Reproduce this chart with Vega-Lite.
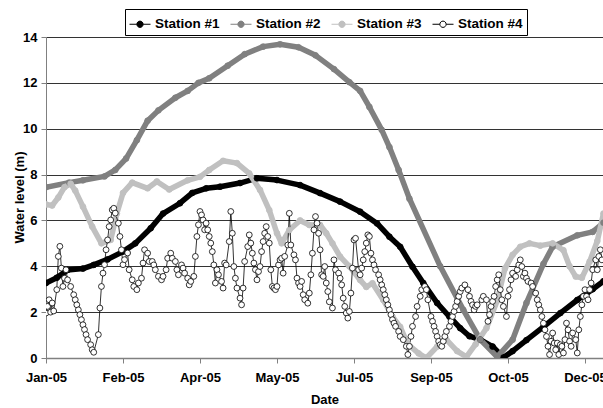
{
  "$schema": "https://vega.github.io/schema/vega-lite/v6.json",
  "width": 557,
  "height": 321,
  "autosize": "none",
  "padding": {"left": 46, "top": 37, "right": 0, "bottom": 50},
  "background": "white",
  "config": {
    "font": "Liberation Sans",
    "view": {"stroke": null},
    "axis": {
      "labelFont": "Liberation Sans", "labelFontWeight": "bold", "labelFontSize": 13, "labelColor": "#000",
      "titleFont": "Liberation Sans", "titleFontWeight": "bold", "titleFontSize": 13, "titleColor": "#000",
      "domainColor": "#808080", "tickColor": "#808080", "tickSize": 5
    }
  },
  "data": {
    "values": [
      {"Station": "Station #1", "Date": "2005-01-01", "Level": 3.27},
      {"Station": "Station #1", "Date": "2005-01-08", "Level": 3.5},
      {"Station": "Station #1", "Date": "2005-01-15", "Level": 3.84},
      {"Station": "Station #1", "Date": "2005-01-25", "Level": 3.9},
      {"Station": "Station #1", "Date": "2005-02-01", "Level": 4.06},
      {"Station": "Station #1", "Date": "2005-02-10", "Level": 4.3},
      {"Station": "Station #1", "Date": "2005-02-20", "Level": 4.64},
      {"Station": "Station #1", "Date": "2005-02-28", "Level": 5.0},
      {"Station": "Station #1", "Date": "2005-03-10", "Level": 5.66},
      {"Station": "Station #1", "Date": "2005-03-18", "Level": 6.3},
      {"Station": "Station #1", "Date": "2005-03-29", "Level": 6.75},
      {"Station": "Station #1", "Date": "2005-04-06", "Level": 7.2},
      {"Station": "Station #1", "Date": "2005-04-15", "Level": 7.4},
      {"Station": "Station #1", "Date": "2005-04-24", "Level": 7.47},
      {"Station": "Station #1", "Date": "2005-05-07", "Level": 7.63},
      {"Station": "Station #1", "Date": "2005-05-18", "Level": 7.84},
      {"Station": "Station #1", "Date": "2005-05-31", "Level": 7.76},
      {"Station": "Station #1", "Date": "2005-06-15", "Level": 7.54},
      {"Station": "Station #1", "Date": "2005-06-28", "Level": 7.19},
      {"Station": "Station #1", "Date": "2005-07-11", "Level": 6.82},
      {"Station": "Station #1", "Date": "2005-07-24", "Level": 6.38},
      {"Station": "Station #1", "Date": "2005-08-04", "Level": 5.87},
      {"Station": "Station #1", "Date": "2005-08-12", "Level": 5.29},
      {"Station": "Station #1", "Date": "2005-08-19", "Level": 4.85},
      {"Station": "Station #1", "Date": "2005-08-27", "Level": 3.98},
      {"Station": "Station #1", "Date": "2005-09-03", "Level": 3.27},
      {"Station": "Station #1", "Date": "2005-09-12", "Level": 2.4},
      {"Station": "Station #1", "Date": "2005-09-20", "Level": 1.8},
      {"Station": "Station #1", "Date": "2005-09-27", "Level": 1.3},
      {"Station": "Station #1", "Date": "2005-10-03", "Level": 0.95},
      {"Station": "Station #1", "Date": "2005-10-10", "Level": 0.8},
      {"Station": "Station #1", "Date": "2005-10-18", "Level": 0.5},
      {"Station": "Station #1", "Date": "2005-10-25", "Level": 0.02},
      {"Station": "Station #1", "Date": "2005-10-31", "Level": 0.3},
      {"Station": "Station #1", "Date": "2005-11-09", "Level": 0.78},
      {"Station": "Station #1", "Date": "2005-11-20", "Level": 1.36},
      {"Station": "Station #1", "Date": "2005-12-01", "Level": 1.96},
      {"Station": "Station #1", "Date": "2005-12-12", "Level": 2.53},
      {"Station": "Station #1", "Date": "2005-12-22", "Level": 3.0},
      {"Station": "Station #1", "Date": "2005-12-29", "Level": 3.35},

      {"Station": "Station #2", "Date": "2005-01-01", "Level": 7.45},
      {"Station": "Station #2", "Date": "2005-01-16", "Level": 7.65},
      {"Station": "Station #2", "Date": "2005-01-25", "Level": 7.75},
      {"Station": "Station #2", "Date": "2005-02-08", "Level": 7.92},
      {"Station": "Station #2", "Date": "2005-02-15", "Level": 8.2},
      {"Station": "Station #2", "Date": "2005-02-22", "Level": 8.7},
      {"Station": "Station #2", "Date": "2005-03-01", "Level": 9.5},
      {"Station": "Station #2", "Date": "2005-03-08", "Level": 10.35},
      {"Station": "Station #2", "Date": "2005-03-15", "Level": 10.8},
      {"Station": "Station #2", "Date": "2005-03-26", "Level": 11.35},
      {"Station": "Station #2", "Date": "2005-04-03", "Level": 11.65},
      {"Station": "Station #2", "Date": "2005-04-10", "Level": 12.0},
      {"Station": "Station #2", "Date": "2005-04-17", "Level": 12.2},
      {"Station": "Station #2", "Date": "2005-04-29", "Level": 12.75},
      {"Station": "Station #2", "Date": "2005-05-10", "Level": 13.25},
      {"Station": "Station #2", "Date": "2005-05-22", "Level": 13.58},
      {"Station": "Station #2", "Date": "2005-06-02", "Level": 13.68},
      {"Station": "Station #2", "Date": "2005-06-14", "Level": 13.55},
      {"Station": "Station #2", "Date": "2005-06-25", "Level": 13.2},
      {"Station": "Station #2", "Date": "2005-07-07", "Level": 12.6},
      {"Station": "Station #2", "Date": "2005-07-17", "Level": 12.03},
      {"Station": "Station #2", "Date": "2005-07-24", "Level": 11.65},
      {"Station": "Station #2", "Date": "2005-07-30", "Level": 10.95},
      {"Station": "Station #2", "Date": "2005-08-07", "Level": 9.95},
      {"Station": "Station #2", "Date": "2005-08-12", "Level": 9.2},
      {"Station": "Station #2", "Date": "2005-08-18", "Level": 8.2},
      {"Station": "Station #2", "Date": "2005-08-25", "Level": 6.95},
      {"Station": "Station #2", "Date": "2005-09-14", "Level": 4.0},
      {"Station": "Station #2", "Date": "2005-09-29", "Level": 2.1},
      {"Station": "Station #2", "Date": "2005-10-10", "Level": 0.8},
      {"Station": "Station #2", "Date": "2005-10-21", "Level": 0.05},
      {"Station": "Station #2", "Date": "2005-10-31", "Level": 0.8},
      {"Station": "Station #2", "Date": "2005-11-09", "Level": 2.4},
      {"Station": "Station #2", "Date": "2005-11-20", "Level": 4.1},
      {"Station": "Station #2", "Date": "2005-11-26", "Level": 4.85},
      {"Station": "Station #2", "Date": "2005-12-12", "Level": 5.35},
      {"Station": "Station #2", "Date": "2005-12-22", "Level": 5.5},
      {"Station": "Station #2", "Date": "2005-12-29", "Level": 5.9},

      {"Station": "Station #3", "Date": "2005-01-01", "Level": 6.7},
      {"Station": "Station #3", "Date": "2005-01-05", "Level": 6.65},
      {"Station": "Station #3", "Date": "2005-01-09", "Level": 7.0},
      {"Station": "Station #3", "Date": "2005-01-13", "Level": 7.45},
      {"Station": "Station #3", "Date": "2005-01-17", "Level": 7.6},
      {"Station": "Station #3", "Date": "2005-01-20", "Level": 7.3},
      {"Station": "Station #3", "Date": "2005-01-25", "Level": 6.6},
      {"Station": "Station #3", "Date": "2005-01-31", "Level": 5.73},
      {"Station": "Station #3", "Date": "2005-02-06", "Level": 5.0},
      {"Station": "Station #3", "Date": "2005-02-12", "Level": 5.15},
      {"Station": "Station #3", "Date": "2005-02-16", "Level": 6.3},
      {"Station": "Station #3", "Date": "2005-02-20", "Level": 7.2},
      {"Station": "Station #3", "Date": "2005-02-26", "Level": 7.65},
      {"Station": "Station #3", "Date": "2005-03-08", "Level": 7.4},
      {"Station": "Station #3", "Date": "2005-03-14", "Level": 7.7},
      {"Station": "Station #3", "Date": "2005-03-22", "Level": 7.35},
      {"Station": "Station #3", "Date": "2005-04-03", "Level": 7.75},
      {"Station": "Station #3", "Date": "2005-04-11", "Level": 7.9},
      {"Station": "Station #3", "Date": "2005-04-17", "Level": 8.2},
      {"Station": "Station #3", "Date": "2005-04-26", "Level": 8.6},
      {"Station": "Station #3", "Date": "2005-05-05", "Level": 8.5},
      {"Station": "Station #3", "Date": "2005-05-13", "Level": 8.05},
      {"Station": "Station #3", "Date": "2005-05-20", "Level": 7.33},
      {"Station": "Station #3", "Date": "2005-05-26", "Level": 6.45},
      {"Station": "Station #3", "Date": "2005-05-31", "Level": 5.44},
      {"Station": "Station #3", "Date": "2005-06-03", "Level": 5.0},
      {"Station": "Station #3", "Date": "2005-06-08", "Level": 5.58},
      {"Station": "Station #3", "Date": "2005-06-15", "Level": 6.0},
      {"Station": "Station #3", "Date": "2005-06-21", "Level": 5.8},
      {"Station": "Station #3", "Date": "2005-06-28", "Level": 5.8},
      {"Station": "Station #3", "Date": "2005-07-02", "Level": 5.44},
      {"Station": "Station #3", "Date": "2005-07-06", "Level": 5.0},
      {"Station": "Station #3", "Date": "2005-07-11", "Level": 4.42},
      {"Station": "Station #3", "Date": "2005-07-17", "Level": 4.0},
      {"Station": "Station #3", "Date": "2005-07-24", "Level": 3.4},
      {"Station": "Station #3", "Date": "2005-07-28", "Level": 3.1},
      {"Station": "Station #3", "Date": "2005-08-01", "Level": 3.26},
      {"Station": "Station #3", "Date": "2005-08-08", "Level": 2.53},
      {"Station": "Station #3", "Date": "2005-08-14", "Level": 1.8},
      {"Station": "Station #3", "Date": "2005-08-19", "Level": 1.36},
      {"Station": "Station #3", "Date": "2005-08-24", "Level": 0.6},
      {"Station": "Station #3", "Date": "2005-08-31", "Level": 0.2},
      {"Station": "Station #3", "Date": "2005-09-05", "Level": 0.0},
      {"Station": "Station #3", "Date": "2005-09-12", "Level": 0.5},
      {"Station": "Station #3", "Date": "2005-09-18", "Level": 0.8},
      {"Station": "Station #3", "Date": "2005-09-25", "Level": 0.3},
      {"Station": "Station #3", "Date": "2005-10-01", "Level": 0.05},
      {"Station": "Station #3", "Date": "2005-10-07", "Level": 0.6},
      {"Station": "Station #3", "Date": "2005-10-14", "Level": 1.3},
      {"Station": "Station #3", "Date": "2005-10-21", "Level": 2.5},
      {"Station": "Station #3", "Date": "2005-10-26", "Level": 3.9},
      {"Station": "Station #3", "Date": "2005-10-31", "Level": 4.5},
      {"Station": "Station #3", "Date": "2005-11-05", "Level": 4.85},
      {"Station": "Station #3", "Date": "2005-11-11", "Level": 5.0},
      {"Station": "Station #3", "Date": "2005-11-18", "Level": 4.9},
      {"Station": "Station #3", "Date": "2005-11-26", "Level": 5.0},
      {"Station": "Station #3", "Date": "2005-12-03", "Level": 4.7},
      {"Station": "Station #3", "Date": "2005-12-07", "Level": 4.0},
      {"Station": "Station #3", "Date": "2005-12-11", "Level": 3.55},
      {"Station": "Station #3", "Date": "2005-12-15", "Level": 3.5},
      {"Station": "Station #3", "Date": "2005-12-20", "Level": 4.2},
      {"Station": "Station #3", "Date": "2005-12-25", "Level": 5.1},
      {"Station": "Station #3", "Date": "2005-12-29", "Level": 6.3},

      {"Station": "Station #4", "Date": "2005-01-01", "Level": 1.96},
      {"Station": "Station #4", "Date": "2005-01-02", "Level": 2.25},
      {"Station": "Station #4", "Date": "2005-01-03", "Level": 2.54},
      {"Station": "Station #4", "Date": "2005-01-04", "Level": 2.0},
      {"Station": "Station #4", "Date": "2005-01-05", "Level": 2.4},
      {"Station": "Station #4", "Date": "2005-01-06", "Level": 2.05},
      {"Station": "Station #4", "Date": "2005-01-08", "Level": 2.98},
      {"Station": "Station #4", "Date": "2005-01-09", "Level": 4.43},
      {"Station": "Station #4", "Date": "2005-01-10", "Level": 4.87},
      {"Station": "Station #4", "Date": "2005-01-11", "Level": 3.92},
      {"Station": "Station #4", "Date": "2005-01-12", "Level": 3.12},
      {"Station": "Station #4", "Date": "2005-01-13", "Level": 3.48},
      {"Station": "Station #4", "Date": "2005-01-14", "Level": 3.85},
      {"Station": "Station #4", "Date": "2005-01-15", "Level": 3.41},
      {"Station": "Station #4", "Date": "2005-01-17", "Level": 3.12},
      {"Station": "Station #4", "Date": "2005-01-19", "Level": 2.76},
      {"Station": "Station #4", "Date": "2005-01-20", "Level": 2.54},
      {"Station": "Station #4", "Date": "2005-01-21", "Level": 2.32},
      {"Station": "Station #4", "Date": "2005-01-22", "Level": 2.1},
      {"Station": "Station #4", "Date": "2005-01-23", "Level": 1.89},
      {"Station": "Station #4", "Date": "2005-01-24", "Level": 1.67},
      {"Station": "Station #4", "Date": "2005-01-25", "Level": 1.45},
      {"Station": "Station #4", "Date": "2005-01-26", "Level": 1.24},
      {"Station": "Station #4", "Date": "2005-01-27", "Level": 1.02},
      {"Station": "Station #4", "Date": "2005-01-28", "Level": 0.8},
      {"Station": "Station #4", "Date": "2005-01-30", "Level": 0.58},
      {"Station": "Station #4", "Date": "2005-01-31", "Level": 0.36},
      {"Station": "Station #4", "Date": "2005-02-01", "Level": 0.25},
      {"Station": "Station #4", "Date": "2005-02-04", "Level": 1.02},
      {"Station": "Station #4", "Date": "2005-02-05", "Level": 2.18},
      {"Station": "Station #4", "Date": "2005-02-06", "Level": 3.12},
      {"Station": "Station #4", "Date": "2005-02-07", "Level": 3.7},
      {"Station": "Station #4", "Date": "2005-02-08", "Level": 4.07},
      {"Station": "Station #4", "Date": "2005-02-09", "Level": 4.72},
      {"Station": "Station #4", "Date": "2005-02-10", "Level": 5.15},
      {"Station": "Station #4", "Date": "2005-02-11", "Level": 5.73},
      {"Station": "Station #4", "Date": "2005-02-12", "Level": 6.02},
      {"Station": "Station #4", "Date": "2005-02-13", "Level": 6.46},
      {"Station": "Station #4", "Date": "2005-02-14", "Level": 6.53},
      {"Station": "Station #4", "Date": "2005-02-15", "Level": 6.32},
      {"Station": "Station #4", "Date": "2005-02-17", "Level": 5.88},
      {"Station": "Station #4", "Date": "2005-02-18", "Level": 5.3},
      {"Station": "Station #4", "Date": "2005-02-19", "Level": 4.72},
      {"Station": "Station #4", "Date": "2005-02-20", "Level": 4.07},
      {"Station": "Station #4", "Date": "2005-02-21", "Level": 4.29},
      {"Station": "Station #4", "Date": "2005-02-23", "Level": 4.58},
      {"Station": "Station #4", "Date": "2005-02-24", "Level": 3.85},
      {"Station": "Station #4", "Date": "2005-02-26", "Level": 3.41},
      {"Station": "Station #4", "Date": "2005-02-27", "Level": 3.12},
      {"Station": "Station #4", "Date": "2005-03-01", "Level": 2.98},
      {"Station": "Station #4", "Date": "2005-03-02", "Level": 3.27},
      {"Station": "Station #4", "Date": "2005-03-04", "Level": 3.48},
      {"Station": "Station #4", "Date": "2005-03-05", "Level": 4.14},
      {"Station": "Station #4", "Date": "2005-03-06", "Level": 4.72},
      {"Station": "Station #4", "Date": "2005-03-08", "Level": 4.57},
      {"Station": "Station #4", "Date": "2005-03-09", "Level": 4.21},
      {"Station": "Station #4", "Date": "2005-03-11", "Level": 4.21},
      {"Station": "Station #4", "Date": "2005-03-12", "Level": 4.06},
      {"Station": "Station #4", "Date": "2005-03-13", "Level": 3.85},
      {"Station": "Station #4", "Date": "2005-03-15", "Level": 3.56},
      {"Station": "Station #4", "Date": "2005-03-17", "Level": 3.41},
      {"Station": "Station #4", "Date": "2005-03-18", "Level": 3.56},
      {"Station": "Station #4", "Date": "2005-03-20", "Level": 3.85},
      {"Station": "Station #4", "Date": "2005-03-21", "Level": 4.35},
      {"Station": "Station #4", "Date": "2005-03-23", "Level": 4.57},
      {"Station": "Station #4", "Date": "2005-03-24", "Level": 4.35},
      {"Station": "Station #4", "Date": "2005-03-26", "Level": 4.21},
      {"Station": "Station #4", "Date": "2005-03-27", "Level": 3.85},
      {"Station": "Station #4", "Date": "2005-03-28", "Level": 3.63},
      {"Station": "Station #4", "Date": "2005-03-30", "Level": 4.06},
      {"Station": "Station #4", "Date": "2005-03-31", "Level": 3.92},
      {"Station": "Station #4", "Date": "2005-04-01", "Level": 3.7},
      {"Station": "Station #4", "Date": "2005-04-03", "Level": 3.48},
      {"Station": "Station #4", "Date": "2005-04-04", "Level": 3.19},
      {"Station": "Station #4", "Date": "2005-04-05", "Level": 3.34},
      {"Station": "Station #4", "Date": "2005-04-07", "Level": 3.56},
      {"Station": "Station #4", "Date": "2005-04-08", "Level": 4.43},
      {"Station": "Station #4", "Date": "2005-04-09", "Level": 5.3},
      {"Station": "Station #4", "Date": "2005-04-10", "Level": 5.81},
      {"Station": "Station #4", "Date": "2005-04-11", "Level": 6.39},
      {"Station": "Station #4", "Date": "2005-04-12", "Level": 6.24},
      {"Station": "Station #4", "Date": "2005-04-13", "Level": 6.02},
      {"Station": "Station #4", "Date": "2005-04-14", "Level": 5.59},
      {"Station": "Station #4", "Date": "2005-04-15", "Level": 5.88},
      {"Station": "Station #4", "Date": "2005-04-16", "Level": 5.59},
      {"Station": "Station #4", "Date": "2005-04-17", "Level": 5.3},
      {"Station": "Station #4", "Date": "2005-04-18", "Level": 5.01},
      {"Station": "Station #4", "Date": "2005-04-19", "Level": 4.64},
      {"Station": "Station #4", "Date": "2005-04-20", "Level": 4.06},
      {"Station": "Station #4", "Date": "2005-04-21", "Level": 3.27},
      {"Station": "Station #4", "Date": "2005-04-22", "Level": 3.85},
      {"Station": "Station #4", "Date": "2005-04-23", "Level": 3.63},
      {"Station": "Station #4", "Date": "2005-04-25", "Level": 3.34},
      {"Station": "Station #4", "Date": "2005-04-26", "Level": 3.05},
      {"Station": "Station #4", "Date": "2005-04-27", "Level": 4.14},
      {"Station": "Station #4", "Date": "2005-04-28", "Level": 4.06},
      {"Station": "Station #4", "Date": "2005-04-30", "Level": 5.08},
      {"Station": "Station #4", "Date": "2005-05-01", "Level": 6.39},
      {"Station": "Station #4", "Date": "2005-05-02", "Level": 5.44},
      {"Station": "Station #4", "Date": "2005-05-03", "Level": 3.99},
      {"Station": "Station #4", "Date": "2005-05-04", "Level": 3.48},
      {"Station": "Station #4", "Date": "2005-05-05", "Level": 3.05},
      {"Station": "Station #4", "Date": "2005-05-07", "Level": 2.61},
      {"Station": "Station #4", "Date": "2005-05-08", "Level": 2.32},
      {"Station": "Station #4", "Date": "2005-05-09", "Level": 3.05},
      {"Station": "Station #4", "Date": "2005-05-10", "Level": 4.21},
      {"Station": "Station #4", "Date": "2005-05-12", "Level": 4.86},
      {"Station": "Station #4", "Date": "2005-05-13", "Level": 5.37},
      {"Station": "Station #4", "Date": "2005-05-14", "Level": 5.01},
      {"Station": "Station #4", "Date": "2005-05-15", "Level": 4.57},
      {"Station": "Station #4", "Date": "2005-05-16", "Level": 4.14},
      {"Station": "Station #4", "Date": "2005-05-17", "Level": 3.85},
      {"Station": "Station #4", "Date": "2005-05-18", "Level": 3.41},
      {"Station": "Station #4", "Date": "2005-05-19", "Level": 3.77},
      {"Station": "Station #4", "Date": "2005-05-20", "Level": 3.99},
      {"Station": "Station #4", "Date": "2005-05-21", "Level": 4.64},
      {"Station": "Station #4", "Date": "2005-05-22", "Level": 5.08},
      {"Station": "Station #4", "Date": "2005-05-23", "Level": 5.44},
      {"Station": "Station #4", "Date": "2005-05-24", "Level": 5.73},
      {"Station": "Station #4", "Date": "2005-05-25", "Level": 5.3},
      {"Station": "Station #4", "Date": "2005-05-26", "Level": 5.01},
      {"Station": "Station #4", "Date": "2005-05-27", "Level": 3.85},
      {"Station": "Station #4", "Date": "2005-05-28", "Level": 3.12},
      {"Station": "Station #4", "Date": "2005-05-29", "Level": 3.05},
      {"Station": "Station #4", "Date": "2005-05-30", "Level": 2.98},
      {"Station": "Station #4", "Date": "2005-05-31", "Level": 3.12},
      {"Station": "Station #4", "Date": "2005-06-01", "Level": 4.06},
      {"Station": "Station #4", "Date": "2005-06-02", "Level": 4.28},
      {"Station": "Station #4", "Date": "2005-06-03", "Level": 4.35},
      {"Station": "Station #4", "Date": "2005-06-04", "Level": 3.7},
      {"Station": "Station #4", "Date": "2005-06-05", "Level": 4.43},
      {"Station": "Station #4", "Date": "2005-06-07", "Level": 4.93},
      {"Station": "Station #4", "Date": "2005-06-08", "Level": 6.31},
      {"Station": "Station #4", "Date": "2005-06-09", "Level": 4.93},
      {"Station": "Station #4", "Date": "2005-06-11", "Level": 4.5},
      {"Station": "Station #4", "Date": "2005-06-12", "Level": 4.28},
      {"Station": "Station #4", "Date": "2005-06-13", "Level": 3.48},
      {"Station": "Station #4", "Date": "2005-06-14", "Level": 3.27},
      {"Station": "Station #4", "Date": "2005-06-15", "Level": 3.12},
      {"Station": "Station #4", "Date": "2005-06-16", "Level": 3.34},
      {"Station": "Station #4", "Date": "2005-06-17", "Level": 2.76},
      {"Station": "Station #4", "Date": "2005-06-18", "Level": 2.54},
      {"Station": "Station #4", "Date": "2005-06-20", "Level": 2.39},
      {"Station": "Station #4", "Date": "2005-06-21", "Level": 2.83},
      {"Station": "Station #4", "Date": "2005-06-22", "Level": 3.63},
      {"Station": "Station #4", "Date": "2005-06-23", "Level": 4.57},
      {"Station": "Station #4", "Date": "2005-06-24", "Level": 5.59},
      {"Station": "Station #4", "Date": "2005-06-25", "Level": 6.17},
      {"Station": "Station #4", "Date": "2005-06-26", "Level": 5.88},
      {"Station": "Station #4", "Date": "2005-06-27", "Level": 5.44},
      {"Station": "Station #4", "Date": "2005-06-28", "Level": 4.72},
      {"Station": "Station #4", "Date": "2005-06-29", "Level": 3.63},
      {"Station": "Station #4", "Date": "2005-06-30", "Level": 3.56},
      {"Station": "Station #4", "Date": "2005-07-01", "Level": 3.99},
      {"Station": "Station #4", "Date": "2005-07-02", "Level": 3.27},
      {"Station": "Station #4", "Date": "2005-07-03", "Level": 2.9},
      {"Station": "Station #4", "Date": "2005-07-04", "Level": 2.45},
      {"Station": "Station #4", "Date": "2005-07-06", "Level": 2.18},
      {"Station": "Station #4", "Date": "2005-07-07", "Level": 4.28},
      {"Station": "Station #4", "Date": "2005-07-08", "Level": 3.85},
      {"Station": "Station #4", "Date": "2005-07-10", "Level": 3.7},
      {"Station": "Station #4", "Date": "2005-07-11", "Level": 3.48},
      {"Station": "Station #4", "Date": "2005-07-12", "Level": 3.19},
      {"Station": "Station #4", "Date": "2005-07-13", "Level": 2.61},
      {"Station": "Station #4", "Date": "2005-07-14", "Level": 2.25},
      {"Station": "Station #4", "Date": "2005-07-15", "Level": 1.96},
      {"Station": "Station #4", "Date": "2005-07-16", "Level": 1.74},
      {"Station": "Station #4", "Date": "2005-07-17", "Level": 2.03},
      {"Station": "Station #4", "Date": "2005-07-18", "Level": 2.83},
      {"Station": "Station #4", "Date": "2005-07-19", "Level": 3.92},
      {"Station": "Station #4", "Date": "2005-07-20", "Level": 5.15},
      {"Station": "Station #4", "Date": "2005-07-21", "Level": 5.22},
      {"Station": "Station #4", "Date": "2005-07-23", "Level": 3.85},
      {"Station": "Station #4", "Date": "2005-07-24", "Level": 3.63},
      {"Station": "Station #4", "Date": "2005-07-25", "Level": 3.92},
      {"Station": "Station #4", "Date": "2005-07-26", "Level": 4.28},
      {"Station": "Station #4", "Date": "2005-07-27", "Level": 4.64},
      {"Station": "Station #4", "Date": "2005-07-28", "Level": 5.01},
      {"Station": "Station #4", "Date": "2005-07-29", "Level": 5.37},
      {"Station": "Station #4", "Date": "2005-07-30", "Level": 5.3},
      {"Station": "Station #4", "Date": "2005-07-31", "Level": 4.57},
      {"Station": "Station #4", "Date": "2005-08-01", "Level": 4.28},
      {"Station": "Station #4", "Date": "2005-08-02", "Level": 4.06},
      {"Station": "Station #4", "Date": "2005-08-03", "Level": 3.85},
      {"Station": "Station #4", "Date": "2005-08-05", "Level": 3.63},
      {"Station": "Station #4", "Date": "2005-08-06", "Level": 3.41},
      {"Station": "Station #4", "Date": "2005-08-07", "Level": 3.19},
      {"Station": "Station #4", "Date": "2005-08-08", "Level": 2.98},
      {"Station": "Station #4", "Date": "2005-08-09", "Level": 2.76},
      {"Station": "Station #4", "Date": "2005-08-10", "Level": 2.54},
      {"Station": "Station #4", "Date": "2005-08-11", "Level": 2.32},
      {"Station": "Station #4", "Date": "2005-08-12", "Level": 2.1},
      {"Station": "Station #4", "Date": "2005-08-13", "Level": 1.89},
      {"Station": "Station #4", "Date": "2005-08-14", "Level": 1.67},
      {"Station": "Station #4", "Date": "2005-08-15", "Level": 1.52},
      {"Station": "Station #4", "Date": "2005-08-16", "Level": 1.38},
      {"Station": "Station #4", "Date": "2005-08-18", "Level": 1.16},
      {"Station": "Station #4", "Date": "2005-08-19", "Level": 0.94},
      {"Station": "Station #4", "Date": "2005-08-21", "Level": 0.8},
      {"Station": "Station #4", "Date": "2005-08-23", "Level": 0.51},
      {"Station": "Station #4", "Date": "2005-08-24", "Level": 0.15},
      {"Station": "Station #4", "Date": "2005-08-25", "Level": 0.51},
      {"Station": "Station #4", "Date": "2005-08-26", "Level": 0.94},
      {"Station": "Station #4", "Date": "2005-08-27", "Level": 1.38},
      {"Station": "Station #4", "Date": "2005-08-29", "Level": 1.81},
      {"Station": "Station #4", "Date": "2005-08-30", "Level": 2.25},
      {"Station": "Station #4", "Date": "2005-09-01", "Level": 2.69},
      {"Station": "Station #4", "Date": "2005-09-02", "Level": 2.98},
      {"Station": "Station #4", "Date": "2005-09-04", "Level": 3.12},
      {"Station": "Station #4", "Date": "2005-09-05", "Level": 2.98},
      {"Station": "Station #4", "Date": "2005-09-06", "Level": 2.54},
      {"Station": "Station #4", "Date": "2005-09-08", "Level": 1.81},
      {"Station": "Station #4", "Date": "2005-09-09", "Level": 1.6},
      {"Station": "Station #4", "Date": "2005-09-10", "Level": 1.38},
      {"Station": "Station #4", "Date": "2005-09-11", "Level": 1.16},
      {"Station": "Station #4", "Date": "2005-09-12", "Level": 0.94},
      {"Station": "Station #4", "Date": "2005-09-13", "Level": 0.73},
      {"Station": "Station #4", "Date": "2005-09-14", "Level": 0.58},
      {"Station": "Station #4", "Date": "2005-09-15", "Level": 0.51},
      {"Station": "Station #4", "Date": "2005-09-16", "Level": 0.73},
      {"Station": "Station #4", "Date": "2005-09-17", "Level": 0.94},
      {"Station": "Station #4", "Date": "2005-09-18", "Level": 1.16},
      {"Station": "Station #4", "Date": "2005-09-20", "Level": 1.38},
      {"Station": "Station #4", "Date": "2005-09-21", "Level": 1.6},
      {"Station": "Station #4", "Date": "2005-09-22", "Level": 1.81},
      {"Station": "Station #4", "Date": "2005-09-23", "Level": 2.03},
      {"Station": "Station #4", "Date": "2005-09-24", "Level": 2.25},
      {"Station": "Station #4", "Date": "2005-09-25", "Level": 2.47},
      {"Station": "Station #4", "Date": "2005-09-26", "Level": 2.69},
      {"Station": "Station #4", "Date": "2005-09-27", "Level": 2.9},
      {"Station": "Station #4", "Date": "2005-09-28", "Level": 3.05},
      {"Station": "Station #4", "Date": "2005-09-30", "Level": 3.19},
      {"Station": "Station #4", "Date": "2005-10-02", "Level": 2.98},
      {"Station": "Station #4", "Date": "2005-10-03", "Level": 2.69},
      {"Station": "Station #4", "Date": "2005-10-04", "Level": 2.47},
      {"Station": "Station #4", "Date": "2005-10-05", "Level": 2.32},
      {"Station": "Station #4", "Date": "2005-10-06", "Level": 2.1},
      {"Station": "Station #4", "Date": "2005-10-07", "Level": 2.25},
      {"Station": "Station #4", "Date": "2005-10-08", "Level": 2.32},
      {"Station": "Station #4", "Date": "2005-10-11", "Level": 2.54},
      {"Station": "Station #4", "Date": "2005-10-12", "Level": 2.69},
      {"Station": "Station #4", "Date": "2005-10-14", "Level": 2.54},
      {"Station": "Station #4", "Date": "2005-10-15", "Level": 1.6},
      {"Station": "Station #4", "Date": "2005-10-16", "Level": 1.89},
      {"Station": "Station #4", "Date": "2005-10-17", "Level": 2.25},
      {"Station": "Station #4", "Date": "2005-10-18", "Level": 2.47},
      {"Station": "Station #4", "Date": "2005-10-19", "Level": 2.69},
      {"Station": "Station #4", "Date": "2005-10-20", "Level": 3.12},
      {"Station": "Station #4", "Date": "2005-10-21", "Level": 3.41},
      {"Station": "Station #4", "Date": "2005-10-22", "Level": 3.63},
      {"Station": "Station #4", "Date": "2005-10-23", "Level": 2.98},
      {"Station": "Station #4", "Date": "2005-10-24", "Level": 2.54},
      {"Station": "Station #4", "Date": "2005-10-25", "Level": 2.25},
      {"Station": "Station #4", "Date": "2005-10-27", "Level": 1.81},
      {"Station": "Station #4", "Date": "2005-10-28", "Level": 2.69},
      {"Station": "Station #4", "Date": "2005-10-29", "Level": 2.98},
      {"Station": "Station #4", "Date": "2005-10-30", "Level": 3.41},
      {"Station": "Station #4", "Date": "2005-10-31", "Level": 3.7},
      {"Station": "Station #4", "Date": "2005-11-02", "Level": 3.56},
      {"Station": "Station #4", "Date": "2005-11-03", "Level": 3.85},
      {"Station": "Station #4", "Date": "2005-11-04", "Level": 4.06},
      {"Station": "Station #4", "Date": "2005-11-05", "Level": 4.28},
      {"Station": "Station #4", "Date": "2005-11-06", "Level": 3.99},
      {"Station": "Station #4", "Date": "2005-11-07", "Level": 3.56},
      {"Station": "Station #4", "Date": "2005-11-08", "Level": 3.7},
      {"Station": "Station #4", "Date": "2005-11-09", "Level": 3.48},
      {"Station": "Station #4", "Date": "2005-11-10", "Level": 3.34},
      {"Station": "Station #4", "Date": "2005-11-12", "Level": 3.27},
      {"Station": "Station #4", "Date": "2005-11-13", "Level": 3.12},
      {"Station": "Station #4", "Date": "2005-11-15", "Level": 2.83},
      {"Station": "Station #4", "Date": "2005-11-16", "Level": 2.54},
      {"Station": "Station #4", "Date": "2005-11-17", "Level": 2.32},
      {"Station": "Station #4", "Date": "2005-11-18", "Level": 2.1},
      {"Station": "Station #4", "Date": "2005-11-19", "Level": 1.81},
      {"Station": "Station #4", "Date": "2005-11-20", "Level": 1.52},
      {"Station": "Station #4", "Date": "2005-11-21", "Level": 1.23},
      {"Station": "Station #4", "Date": "2005-11-22", "Level": 0.94},
      {"Station": "Station #4", "Date": "2005-11-23", "Level": 0.51},
      {"Station": "Station #4", "Date": "2005-11-24", "Level": 0.15},
      {"Station": "Station #4", "Date": "2005-11-25", "Level": 0.73},
      {"Station": "Station #4", "Date": "2005-11-26", "Level": 1.09},
      {"Station": "Station #4", "Date": "2005-11-27", "Level": 0.65},
      {"Station": "Station #4", "Date": "2005-11-28", "Level": 0.36},
      {"Station": "Station #4", "Date": "2005-11-29", "Level": 0.65},
      {"Station": "Station #4", "Date": "2005-11-30", "Level": 0.15},
      {"Station": "Station #4", "Date": "2005-12-01", "Level": 0.58},
      {"Station": "Station #4", "Date": "2005-12-02", "Level": 0.51},
      {"Station": "Station #4", "Date": "2005-12-03", "Level": 0.22},
      {"Station": "Station #4", "Date": "2005-12-04", "Level": 0.8},
      {"Station": "Station #4", "Date": "2005-12-05", "Level": 1.52},
      {"Station": "Station #4", "Date": "2005-12-06", "Level": 1.23},
      {"Station": "Station #4", "Date": "2005-12-07", "Level": 0.73},
      {"Station": "Station #4", "Date": "2005-12-08", "Level": 0.51},
      {"Station": "Station #4", "Date": "2005-12-09", "Level": 1.09},
      {"Station": "Station #4", "Date": "2005-12-11", "Level": 0.8},
      {"Station": "Station #4", "Date": "2005-12-12", "Level": 0.22},
      {"Station": "Station #4", "Date": "2005-12-13", "Level": 1.23},
      {"Station": "Station #4", "Date": "2005-12-14", "Level": 1.81},
      {"Station": "Station #4", "Date": "2005-12-15", "Level": 2.32},
      {"Station": "Station #4", "Date": "2005-12-16", "Level": 2.69},
      {"Station": "Station #4", "Date": "2005-12-17", "Level": 2.98},
      {"Station": "Station #4", "Date": "2005-12-18", "Level": 2.69},
      {"Station": "Station #4", "Date": "2005-12-19", "Level": 2.54},
      {"Station": "Station #4", "Date": "2005-12-20", "Level": 2.98},
      {"Station": "Station #4", "Date": "2005-12-21", "Level": 3.27},
      {"Station": "Station #4", "Date": "2005-12-22", "Level": 3.85},
      {"Station": "Station #4", "Date": "2005-12-24", "Level": 4.28},
      {"Station": "Station #4", "Date": "2005-12-25", "Level": 3.85},
      {"Station": "Station #4", "Date": "2005-12-26", "Level": 4.43},
      {"Station": "Station #4", "Date": "2005-12-27", "Level": 4.72},
      {"Station": "Station #4", "Date": "2005-12-28", "Level": 4.28}
    ]
  },
  "encoding": {
    "x": {
      "field": "Date", "type": "temporal",
      "scale": {"type": "utc", "domain": [{"year": 2005, "month": 1, "date": 1, "utc": true}, {"year": 2005, "month": 12, "date": 28, "hours": 17, "utc": true}]},
      "axis": {
        "title": "Date", "format": "%b-%y", "grid": false,
        "values": [
          {"year": 2005, "month": 1, "date": 1, "utc": true},
          {"year": 2005, "month": 2, "date": 20, "utc": true},
          {"year": 2005, "month": 4, "date": 11, "utc": true},
          {"year": 2005, "month": 5, "date": 31, "utc": true},
          {"year": 2005, "month": 7, "date": 20, "utc": true},
          {"year": 2005, "month": 9, "date": 8, "utc": true},
          {"year": 2005, "month": 10, "date": 28, "utc": true},
          {"year": 2005, "month": 12, "date": 17, "utc": true}
        ],
        "domainWidth": 1.5, "labelPadding": 8, "titlePadding": 9, "labelFlush": false, "labelOverlap": false
      }
    },
    "y": {
      "field": "Level", "type": "quantitative",
      "scale": {"domain": [0, 14], "nice": false},
      "axis": {
        "title": "Water level (m)", "values": [0, 2, 4, 6, 8, 10, 12, 14],
        "grid": true, "gridColor": "#333333", "gridWidth": 1,
        "labelPadding": 4, "titleX": -20, "titleY": 160
      }
    }
  },
  "layer": [
    {
      "transform": [{"filter": "datum.Station !== 'Station #4'"}],
      "mark": {"type": "line", "strokeWidth": 5.5, "strokeCap": "round", "strokeJoin": "round", "clip": true},
      "encoding": {
        "stroke": {
          "field": "Station", "type": "nominal",
          "scale": {"domain": ["Station #1", "Station #2", "Station #3", "Station #4"], "range": ["#000000", "#808080", "#c0c0c0", "#000000"]},
          "legend": {
            "title": null, "orient": "none", "legendX": 79, "legendY": -28, "direction": "horizontal", "columns": 4,
            "strokeColor": "#000000", "fillColor": "#ffffff", "padding": 4, "columnPadding": 8,
            "symbolType": "M-1,0L-0.3,0M0.3,0L1,0M0.3,0A0.3,0.3,0,1,1,-0.3,0A0.3,0.3,0,1,1,0.3,0Z",
            "symbolSize": 441, "labelFont": "Liberation Sans", "labelFontWeight": "bold", "labelFontSize": 13.5, "labelColor": "#000000", "labelOffset": 4,
            "encode": {"symbols": {"update": {"strokeWidth": {"value": 1}, "opacity": {"value": 1}}}}
          }
        }
      }
    },
    {
      "transform": [{"filter": "datum.Station === 'Station #4'"}],
      "mark": {"type": "line", "strokeWidth": 0.8, "clip": true},
      "encoding": {
        "stroke": {
          "field": "Station", "type": "nominal",
          "scale": {"domain": ["Station #1", "Station #2", "Station #3", "Station #4"], "range": ["#000000", "#808080", "#c0c0c0", "#000000"]},
          "legend": {
            "title": null, "orient": "none", "legendX": 79, "legendY": -28, "direction": "horizontal", "columns": 4,
            "strokeColor": "#000000", "fillColor": "#ffffff", "padding": 4, "columnPadding": 8,
            "symbolType": "M-1,0L-0.3,0M0.3,0L1,0M0.3,0A0.3,0.3,0,1,1,-0.3,0A0.3,0.3,0,1,1,0.3,0Z",
            "symbolSize": 441, "labelFont": "Liberation Sans", "labelFontWeight": "bold", "labelFontSize": 13.5, "labelColor": "#000000", "labelOffset": 4,
            "encode": {"symbols": {"update": {"strokeWidth": {"value": 1}, "opacity": {"value": 1}}}}
          }
        }
      }
    },
    {
      "mark": {"type": "point", "shape": "circle", "filled": true, "size": 34, "strokeWidth": 0.8, "opacity": 1, "clip": true},
      "encoding": {
        "stroke": {
          "field": "Station", "type": "nominal",
          "scale": {"domain": ["Station #1", "Station #2", "Station #3", "Station #4"], "range": ["#000000", "#808080", "#c0c0c0", "#000000"]},
          "legend": {
            "title": null, "orient": "none", "legendX": 79, "legendY": -28, "direction": "horizontal", "columns": 4,
            "strokeColor": "#000000", "fillColor": "#ffffff", "padding": 4, "columnPadding": 8,
            "symbolType": "M-1,0L-0.3,0M0.3,0L1,0M0.3,0A0.3,0.3,0,1,1,-0.3,0A0.3,0.3,0,1,1,0.3,0Z",
            "symbolSize": 441, "labelFont": "Liberation Sans", "labelFontWeight": "bold", "labelFontSize": 13.5, "labelColor": "#000000", "labelOffset": 4,
            "encode": {"symbols": {"update": {"strokeWidth": {"value": 1}, "opacity": {"value": 1}}}}
          }
        },
        "fill": {
          "field": "Station", "type": "nominal",
          "scale": {"domain": ["Station #1", "Station #2", "Station #3", "Station #4"], "range": ["#000000", "#808080", "#c0c0c0", "#ffffff"]},
          "legend": {
            "title": null, "orient": "none", "legendX": 79, "legendY": -28, "direction": "horizontal", "columns": 4,
            "strokeColor": "#000000", "fillColor": "#ffffff", "padding": 4, "columnPadding": 8,
            "symbolType": "M-1,0L-0.3,0M0.3,0L1,0M0.3,0A0.3,0.3,0,1,1,-0.3,0A0.3,0.3,0,1,1,0.3,0Z",
            "symbolSize": 441, "labelFont": "Liberation Sans", "labelFontWeight": "bold", "labelFontSize": 13.5, "labelColor": "#000000", "labelOffset": 4,
            "encode": {"symbols": {"update": {"strokeWidth": {"value": 1}, "opacity": {"value": 1}}}}
          }
        }
      }
    }
  ]
}
